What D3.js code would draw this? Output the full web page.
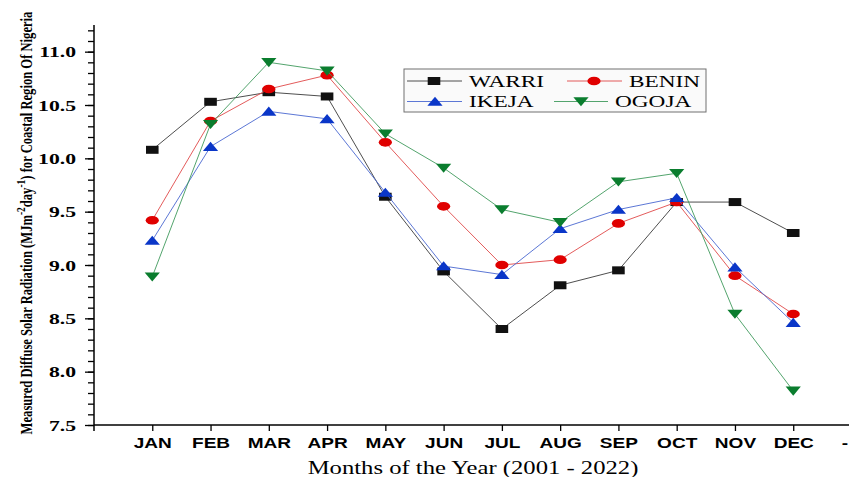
<!DOCTYPE html>
<html>
<head>
<meta charset="utf-8">
<script src="https://cdn.jsdelivr.net/npm/d3@7"></script>
<style>
  html, body { margin: 0; padding: 0; background: #fff; }
  svg { display: block; }
</style>
</head>
<body>
<svg id="chart" width="849" height="477"></svg>
<script>
// Monthly mean measured diffuse solar radiation, coastal stations of Nigeria (2001 - 2022)
const months = ["JAN", "FEB", "MAR", "APR", "MAY", "JUN", "JUL", "AUG", "SEP", "OCT", "NOV", "DEC"];
const warri = [10.08, 10.53, 10.62, 10.58, 9.64, 8.94, 8.40, 8.81, 8.95, 9.59, 9.59, 9.30];
const benin = [9.42, 10.35, 10.65, 10.78, 10.15, 9.55, 9.00, 9.05, 9.39, 9.59, 8.90, 8.54];
const ikeja = [9.23, 10.11, 10.44, 10.37, 9.68, 8.99, 8.91, 9.34, 9.52, 9.63, 8.98, 8.46];
const ogoja = [8.89, 10.32, 10.90, 10.82, 10.23, 9.91, 9.52, 9.40, 9.78, 9.86, 8.54, 7.82];
const yTicks = [7.5, 8.0, 8.5, 9.0, 9.5, 10.0, 10.5, 11.0];
const xTickLabels = ["", ...months, "-"];

const series = [
  { name: "WARRI", values: warri, line: "#3a3a3a", fill: "#111111", shape: "square" },
  { name: "BENIN", values: benin, line: "#e04848", fill: "#e00000", shape: "circle" },
  { name: "IKEJA", values: ikeja, line: "#4a68d0", fill: "#0a36c8", shape: "up" },
  { name: "OGOJA", values: ogoja, line: "#3f9a5c", fill: "#0a7d2e", shape: "down" }
];

const svg = d3.select("#chart");
const x = d3.scaleLinear().domain([0, 13]).range([94, 851.5]);
const y = d3.scaleLinear().domain([7.5, 11.25]).range([425, 25]);

// Wide-set text: horizontal stretch applied around the anchor point
function placeText(sel, tx, ty, sx, sy) {
  sel.attr("x", 0).attr("y", 0)
     .attr("transform", `translate(${tx},${ty}) scale(${sx},${sy || 1})`);
  return sel;
}

// Marker path generators (wide, flat glyphs)
function markerPath(shape) {
  switch (shape) {
    case "square": return "M-6.3,-4 H6.3 V4 H-6.3 Z";
    case "up": return "M0,-4.8 L7.6,4.3 L-7.6,4.3 Z";
    case "down": return "M0,4.8 L7.6,-4.3 L-7.6,-4.3 Z";
    default: return null;
  }
}
function drawMarker(g, shape, fill, cx, cy) {
  if (shape === "circle") {
    g.append("ellipse").attr("cx", cx).attr("cy", cy).attr("rx", 6.6).attr("ry", 4.3).attr("fill", fill);
  } else {
    g.append("path").attr("d", markerPath(shape)).attr("transform", `translate(${cx},${cy})`).attr("fill", fill);
  }
}

// ---- Y axis: major ticks every 0.5, minor every 0.1 ----
const yMinor = d3.range(75, 113).map(v => v / 10);
const yAxisMinor = svg.append("g").attr("transform", `translate(${x(0)},0)`)
  .call(d3.axisLeft(y).tickValues(yMinor).tickSize(6).tickFormat(""));
const yAxis = svg.append("g").attr("transform", `translate(${x(0)},0)`)
  .call(d3.axisLeft(y).tickValues(yTicks).tickSize(9).tickFormat(d3.format(".1f")));
[yAxisMinor, yAxis].forEach(a => {
  a.select(".domain").remove();
  a.selectAll(".tick line").attr("stroke", "#000").attr("stroke-width", 1.3);
});
yAxis.selectAll(".tick text")
  .attr("font-family", "'Liberation Serif', 'Times New Roman', serif")
  .attr("font-weight", "bold").attr("font-size", 14).attr("fill", "#000")
  .attr("text-anchor", "end").attr("dy", null)
  .each(function () { placeText(d3.select(this), -18, 5, 1.55); });
svg.append("line").attr("x1", x(0)).attr("x2", x(0)).attr("y1", y(11.25)).attr("y2", 431)
  .attr("stroke", "#000").attr("stroke-width", 1.5);

// ---- X axis ----
const xAxis = svg.append("g").attr("transform", `translate(0,${y(7.5)})`)
  .call(d3.axisBottom(x).tickValues(d3.range(1, 14)).tickSize(6).tickFormat(d => xTickLabels[d]));
xAxis.select(".domain").remove();
xAxis.selectAll(".tick line").attr("stroke", "#000").attr("stroke-width", 1.3);
xAxis.selectAll(".tick text")
  .attr("font-family", "'Liberation Sans', Arial, sans-serif")
  .attr("font-weight", "bold").attr("font-size", 14).attr("fill", "#000")
  .attr("dy", null)
  .each(function (d) { placeText(d3.select(this), d === 13 ? -7 : 0, 23, 1.36); });
svg.append("line").attr("x1", x(0)).attr("x2", 849).attr("y1", y(7.5)).attr("y2", y(7.5))
  .attr("stroke", "#000").attr("stroke-width", 1.5);

// ---- Axis titles ----
placeText(svg.append("text"), 473, 474, 1.37)
  .attr("text-anchor", "middle")
  .attr("font-family", "'Liberation Serif', 'Times New Roman', serif")
  .attr("font-size", 18).attr("fill", "#000")
  .text("Months of the Year (2001 - 2022)");

const yTitle = svg.append("text")
  .attr("text-anchor", "middle")
  .attr("font-family", "'Liberation Serif', 'Times New Roman', serif")
  .attr("font-weight", "bold").attr("font-size", 12).attr("fill", "#000");
yTitle.append("tspan").text("Measured Diffuse Solar Radiation (MJm");
yTitle.append("tspan").attr("baseline-shift", "super").attr("font-size", 9).text("-2");
yTitle.append("tspan").text("day");
yTitle.append("tspan").attr("baseline-shift", "super").attr("font-size", 9).text("-1");
yTitle.append("tspan").text(") for Coastal Region Of Nigeria");
const titleLen = yTitle.node().getComputedTextLength();
yTitle.attr("x", 0).attr("y", 0)
  .attr("transform", `translate(32,223) rotate(-90) scale(${423 / titleLen},1.4)`);

// ---- Series: lines then markers ----
const line = d3.line().x((d, i) => x(i + 1)).y(d => y(d));
series.forEach(s => {
  const g = svg.append("g");
  g.append("path").datum(s.values).attr("d", line)
    .attr("fill", "none").attr("stroke", s.line).attr("stroke-width", 0.9);
  s.values.forEach((v, i) => drawMarker(g, s.shape, s.fill, x(i + 1), y(v)));
});

// ---- Legend ----
const legend = svg.append("g");
legend.append("rect").attr("x", 404).attr("y", 69).attr("width", 302).attr("height", 43)
  .attr("fill", "#fafafa").attr("stroke", "#707070").attr("stroke-width", 1);
const legendItems = [
  { s: series[0], x1: 407, x2: 462, mx: 434, tx: 469, row: 0 },
  { s: series[1], x1: 567, x2: 622, mx: 594, tx: 629, row: 0 },
  { s: series[2], x1: 407, x2: 462, mx: 435, tx: 469, row: 1 },
  { s: series[3], x1: 554, x2: 608, mx: 581, tx: 615, row: 1 }
];
legendItems.forEach(it => {
  const cy = 81 + it.row * 20.5;
  legend.append("line").attr("x1", it.x1).attr("x2", it.x2).attr("y1", cy).attr("y2", cy)
    .attr("stroke", it.s.line).attr("stroke-width", 0.9);
  drawMarker(legend, it.s.shape, it.s.fill, it.mx, cy);
  placeText(legend.append("text"), it.tx, cy + 5.5, 1.37)
    .attr("font-family", "'Liberation Serif', 'Times New Roman', serif")
    .attr("font-size", 17).attr("fill", "#000")
    .text(it.s.name);
});
</script>
</body>
</html>
